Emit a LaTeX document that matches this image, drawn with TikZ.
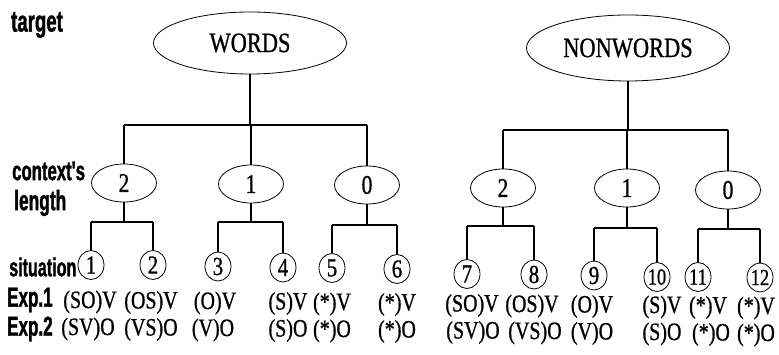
\documentclass[tikz,border=0pt]{standalone}
\usepackage{fontspec}
\setmainfont{Liberation Serif}
\newfontfamily\serc[FakeStretch=0.8,FakeBold=0.8]{Liberation Serif}
\newfontfamily\labf[FakeStretch=0.62,FakeBold=1.2]{Liberation Sans}
\usetikzlibrary{shapes.geometric}
\begin{document}
\begin{tikzpicture}[x=1pt,y=-1pt,
  conn/.style={line width=1.1pt},
  topell/.style={ellipse,draw,line width=0.8pt,inner sep=0pt,font=\serc\fontsize{28}{28}\selectfont},
  ctx/.style={ellipse,draw,line width=0.8pt,minimum width=65pt,minimum height=38pt,inner sep=0pt,font=\serc\fontsize{27}{27}\selectfont},
  sit/.style={ellipse,draw,line width=0.8pt,minimum width=26pt,minimum height=29pt,inner sep=0pt,font=\serc\fontsize{26}{26}\selectfont},
  sitn/.style={sit,font=\serc\fontsize{23}{23}\selectfont},
  expt/.style={inner sep=0pt,font=\serc\fontsize{25}{25}\selectfont},
  lab/.style={anchor=west,inner sep=0pt,font=\labf\bfseries\fontsize{28}{28}\selectfont}]
\useasboundingbox (0,0) rectangle (779,355);

% left labels
\node[lab,font=\labf\bfseries\fontsize{30}{30}\selectfont] (ltarget) at (11,25) {target};
\node[lab,font=\labf\bfseries\fontsize{27}{27}\selectfont] (lctx) at (12,171) {context's};
\node[lab] (llen) at (14,203) {length};
\node[lab,font=\labf\bfseries\fontsize{26}{26}\selectfont] (lsit) at (9,267) {situation};
\node[lab,font=\labf\bfseries\fontsize{27.5}{27.5}\selectfont] (lexp1) at (7,300) {Exp.1};
\node[lab,font=\labf\bfseries\fontsize{27.5}{27.5}\selectfont] (lexp2) at (7,329) {Exp.2};

% targets
\node[topell,minimum width=193pt,minimum height=62pt] (W) at (250,43) {WORDS};
\node[topell,minimum width=203pt,minimum height=66pt] (N) at (628,48) {NONWORDS};

% context's length
\node[ctx] (W2) at (124,183) {2};
\node[ctx] (W1) at (251,184) {1};
\node[ctx] (W0) at (367,185) {0};
\node[ctx] (N2) at (503,188) {2};
\node[ctx] (N1) at (627,188) {1};
\node[ctx] (N0) at (728,190) {0};

% situations
\node[sit] (s1) at (91,265) {1};
\node[sit] (s2) at (153,265) {2};
\node[sit] (s3) at (218,266.5) {3};
\node[sit] (s4) at (283,267.5) {4};
\node[sit] (s5) at (332,268) {5};
\node[sit] (s6) at (397,269) {6};
\node[sit] (s7) at (467,274) {7};
\node[sit] (s8) at (534,274.5) {8};
\node[sit] (s9) at (594,275.5) {9};
\node[sitn] (s10) at (657,277) {10};
\node[sitn] (s11) at (698,277) {11};
\node[sitn] (s12) at (760,277.5) {12};

% bar coordinates
\coordinate (wb) at (0,125);
\coordinate (nb) at (0,130);
\coordinate (bW2) at (0,222);
\coordinate (bW1) at (0,222);
\coordinate (bW0) at (0,225);
\coordinate (bN2) at (0,226);
\coordinate (bN1) at (0,228);
\coordinate (bN0) at (0,229);

% top level connectors
\draw[conn] (W.south) -- (W.south |- wb);
\draw[conn] (W2 |- wb) -- (W0 |- wb);
\foreach \c in {W2,W1,W0} \draw[conn] (\c |- wb) -- (\c.north);
\draw[conn] (N.south) -- (N.south |- nb);
\draw[conn] (N2 |- nb) -- (N0 |- nb);
\foreach \c in {N2,N1,N0} \draw[conn] (\c |- nb) -- (\c.north);

% second level connectors
\foreach \c/\a/\b in {W2/s1/s2,W1/s3/s4,W0/s5/s6,N2/s7/s8,N1/s9/s10,N0/s11/s12}{
  \draw[conn] (\c.south) -- (\c.south |- b\c);
  \draw[conn] (\a |- b\c) -- (\b |- b\c);
  \draw[conn] (\a |- b\c) -- (\a.north);
  \draw[conn] (\b |- b\c) -- (\b.north);
}

% Exp.1 row
\foreach \i/\x/\y/\t in {1/90/302/(SO)V,2/151/302.5/(OS)V,3/215/303/(O)V,4/288/303.5/(S)V,
  5/332/304/(*)V,6/397/304.5/(*)V,7/472/305.5/(SO)V,8/532/306/(OS)V,9/592/306.5/(O)V,
  10/662/307/(S)V,11/708/307.5/(*)V,12/756/308/(*)V}
  \node[expt] (ea\i) at (\x,\y) {\t};
% Exp.2 row
\foreach \i/\x/\y/\t in {1/88/329/(SV)O,2/151/329.5/(VS)O,3/213/330/(V)O,4/288/330.5/(S)O,
  5/332/331/(*)O,6/397/331.5/(*)O,7/473/332.5/(SV)O,8/535/333/(VS)O,9/592/333.5/(V)O,
  10/662/334/(S)O,11/711/334.5/(*)O,12/756/335/(*)O}
  \node[expt] (eb\i) at (\x,\y) {\t};
\end{tikzpicture}
\end{document}
